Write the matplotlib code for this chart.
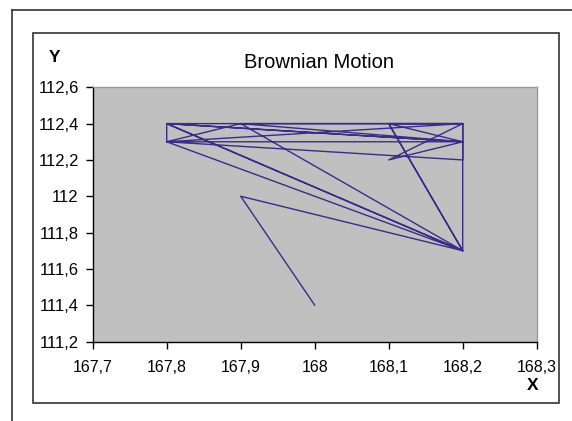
"""
Brownian Motion - Excel-style XY line chart with decimal-comma tick labels.

Writes out.png.
"""
import matplotlib.pyplot as plt
from matplotlib.lines import Line2D
from matplotlib.patches import Rectangle

# ---- data ----
x_walk = [168.0, 167.9, 168.2, 167.8, 168.2, 167.8, 168.2, 167.9, 168.2, 167.8,
          168.2, 168.2, 168.1, 168.2, 168.1, 168.2, 168.1, 168.2, 167.8, 167.8,
          167.9, 168.2, 167.8, 168.2, 168.2]
y_walk = [111.4, 112.0, 111.7, 112.3, 112.3, 112.4, 111.7, 112.4, 112.4, 112.3,
          112.2, 112.4, 112.4, 111.7, 112.4, 112.3, 112.2, 112.4, 112.4, 112.3,
          112.4, 112.3, 112.4, 111.7, 112.4]

x_ticks = [167.7, 167.8, 167.9, 168.0, 168.1, 168.2, 168.3]
x_labels = ["167,7", "167,8", "167,9", "168", "168,1", "168,2", "168,3"]
y_ticks = [111.2, 111.4, 111.6, 111.8, 112.0, 112.2, 112.4, 112.6]
y_labels = ["111,2", "111,4", "111,6", "111,8", "112", "112,2", "112,4", "112,6"]

W, H = 572, 421
plt.rcParams["font.family"] = ["Liberation Sans", "DejaVu Sans"]

fig = plt.figure(figsize=(W / 100, H / 100), dpi=100)


def fx(px):
    return px / W


def fy(py):
    return 1 - py / H


# outer frame: only top and left edges fall inside the picture
fig.lines.append(Line2D([fx(11.5), 1.0], [fy(10.3), fy(10.3)], transform=fig.transFigure,
                        color="#333333", linewidth=1.2))
fig.lines.append(Line2D([fx(11.5), fx(11.5)], [fy(10.3), 0.0], transform=fig.transFigure,
                        color="#333333", linewidth=1.2))
# chart area border
fig.patches.append(Rectangle((fx(32.7), fy(403.3)), (559 - 32.7) / W, (403.3 - 32.7) / H,
                             transform=fig.transFigure, fill=False,
                             edgecolor="#333333", linewidth=1.2))

# plot area
l, r, t, b = 92.7, 536.7, 87.3, 341.5
ax = fig.add_axes([fx(l), fy(b), (r - l) / W, (b - t) / H])
ax.set_facecolor("#c0c0c0")
ax.plot(x_walk, y_walk, color="#3a2c88", linewidth=1.0)

ax.set_xlim(167.7, 168.3)
ax.set_ylim(111.2, 112.6)
ax.set_xticks(x_ticks)
ax.set_xticklabels(x_labels)
ax.set_yticks(y_ticks)
ax.set_yticklabels(y_labels)
ax.tick_params(axis="both", colors="black", width=1)
ax.tick_params(axis="y", length=5, pad=5, labelsize=12)
ax.tick_params(axis="x", length=5, pad=8, labelsize=11.5)
for s in ("top", "right"):
    ax.spines[s].set_color("#9a9a9a")
    ax.spines[s].set_linewidth(1)
for s in ("left", "bottom"):
    ax.spines[s].set_color("black")
    ax.spines[s].set_linewidth(1)

fig.text(fx(319), fy(62), "Brownian Motion", ha="center", va="center", fontsize=14.5)
fig.text(fx(55), fy(57), "Y", ha="center", va="center", fontsize=12.5, fontweight="bold")
fig.text(fx(533), fy(386), "X", ha="center", va="center", fontsize=12.5, fontweight="bold")

fig.savefig("out.png", dpi=100)
